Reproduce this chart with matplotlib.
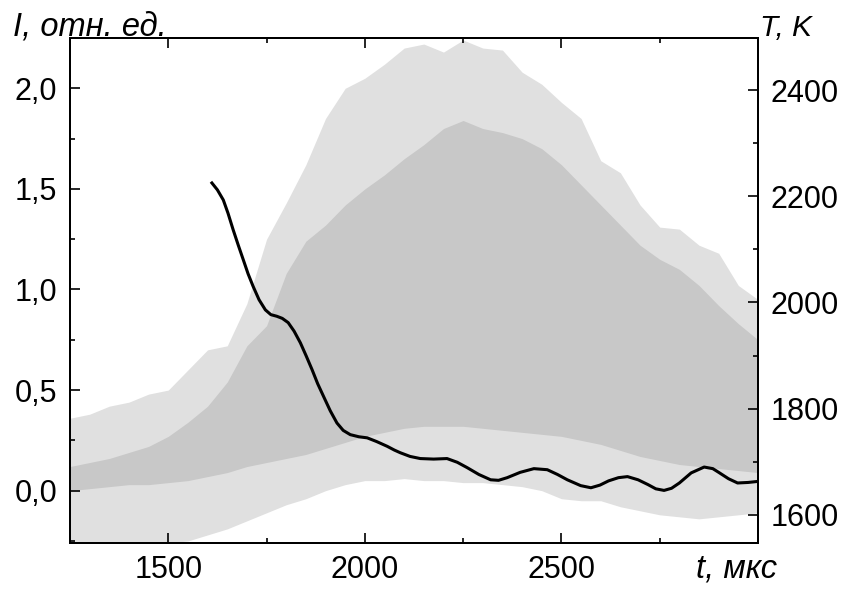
import matplotlib
matplotlib.use("Agg")
import matplotlib.pyplot as plt
from matplotlib.ticker import FixedLocator, MultipleLocator, FuncFormatter

plt.rcParams["font.family"] = ["Liberation Sans", "DejaVu Sans"]

# envelopes of the oscillating intensity signal I (rel. units)
t_env = [1250, 1300, 1350, 1400, 1450, 1500, 1550, 1600, 1650, 1700, 1750, 1800,
         1850, 1900, 1950, 2000, 2050, 2100, 2150, 2200, 2250, 2300, 2350, 2400,
         2450, 2500, 2550, 2600, 2650, 2700, 2750, 2800, 2850, 2900, 2950, 3000]
i_max = [0.36, 0.38, 0.42, 0.44, 0.48, 0.50, 0.60, 0.70, 0.72, 0.93, 1.25, 1.43,
         1.62, 1.85, 2.00, 2.05, 2.12, 2.20, 2.22, 2.18, 2.24, 2.20, 2.19, 2.08,
         2.02, 1.93, 1.85, 1.64, 1.58, 1.42, 1.31, 1.30, 1.22, 1.18, 1.02, 0.95]
i_min = [-0.27, -0.27, -0.27, -0.27, -0.27, -0.26, -0.25, -0.22, -0.19, -0.15, -0.11, -0.07,
         -0.04, 0.00, 0.03, 0.05, 0.05, 0.06, 0.05, 0.05, 0.04, 0.04, 0.03, 0.02,
         0.00, -0.04, -0.05, -0.05, -0.08, -0.10, -0.12, -0.13, -0.14, -0.13, -0.12, -0.11]
core_hi = [0.12, 0.14, 0.16, 0.19, 0.22, 0.27, 0.34, 0.42, 0.54, 0.72, 0.82, 1.08,
           1.24, 1.32, 1.42, 1.50, 1.57, 1.65, 1.72, 1.80, 1.84, 1.80, 1.78, 1.75,
           1.70, 1.62, 1.52, 1.42, 1.32, 1.22, 1.15, 1.10, 1.02, 0.92, 0.83, 0.75]
core_lo = [0.00, 0.01, 0.02, 0.03, 0.03, 0.04, 0.05, 0.07, 0.09, 0.12, 0.14, 0.16,
           0.18, 0.21, 0.24, 0.27, 0.29, 0.31, 0.32, 0.32, 0.32, 0.31, 0.30, 0.29,
           0.28, 0.27, 0.25, 0.23, 0.20, 0.17, 0.15, 0.13, 0.12, 0.11, 0.10, 0.09]

# temperature T, K
t_T = [1611, 1625, 1640, 1652, 1665, 1678, 1691, 1703, 1716, 1731, 1747, 1761,
       1776, 1790, 1805, 1820, 1836, 1851, 1866, 1880, 1895, 1912, 1929, 1945,
       1963, 1985, 2006, 2030, 2057, 2075, 2090, 2115, 2141, 2175, 2209, 2235,
       2260, 2290, 2320, 2340, 2362, 2395, 2430, 2464, 2490, 2515, 2549, 2575,
       2598, 2620, 2645, 2668, 2695, 2720, 2740, 2761, 2780, 2800, 2830, 2863,
       2885, 2900, 2925, 2948, 2975, 3000]
temp = [2225, 2212, 2193, 2168, 2137, 2108, 2080, 2054, 2030, 2005, 1986, 1977,
        1974, 1970, 1962, 1946, 1924, 1899, 1873, 1847, 1823, 1796, 1773, 1759,
        1751, 1747, 1745, 1738, 1729, 1722, 1717, 1710, 1706, 1705, 1706, 1699,
        1689, 1676, 1666, 1665, 1670, 1680, 1687, 1685, 1676, 1666, 1655, 1651,
        1656, 1664, 1670, 1672, 1666, 1657, 1649, 1646, 1650, 1660, 1679, 1690,
        1687, 1680, 1668, 1660, 1661, 1663]

fig = plt.figure(figsize=(8.46, 5.92), dpi=100)
ax = fig.add_axes([0.0827, 0.0828, 0.8133, 0.853])

ax.fill_between(t_env, i_min, i_max, color="#e0e0e0", lw=0)
ax.fill_between(t_env, core_lo, core_hi, color="#c8c8c8", lw=0)

ax.set_xlim(1250, 3000)
ax.set_ylim(-0.26, 2.25)
ax.xaxis.set_major_locator(FixedLocator([1500, 2000, 2500]))
ax.xaxis.set_minor_locator(FixedLocator([1250, 1750, 2250, 2750]))
ax.yaxis.set_major_locator(MultipleLocator(0.5))
ax.yaxis.set_minor_locator(MultipleLocator(0.25))
ax.yaxis.set_major_formatter(FuncFormatter(lambda v, p: f"{v:.1f}".replace(".", ",")))
ax.tick_params(axis="x", which="both", direction="in", top=True, labelsize=22, pad=9)
ax.tick_params(axis="y", which="both", direction="in", right=False, labelsize=22, pad=9)
ax.tick_params(which="major", length=7, width=1.2)
ax.tick_params(which="minor", length=3.8, width=1.2)

ax2 = ax.twinx()
ax2.plot(t_T, temp, color="black", lw=2.2, solid_joinstyle="round")
ax2.set_ylim(1547, 2498)
ax2.yaxis.set_major_locator(MultipleLocator(200))
ax2.yaxis.set_minor_locator(MultipleLocator(100))
ax2.tick_params(axis="y", which="both", direction="in", labelsize=22, pad=9)
ax2.tick_params(which="major", length=7, width=1.2)
ax2.tick_params(which="minor", length=3.8, width=1.2)

for a in (ax, ax2):
    for s in a.spines.values():
        s.set_linewidth(1.4)

fig.text(13 / 846, 1 - 35 / 592, "I, отн. ед.", fontsize=23.5, style="italic")
fig.text(760 / 846, 1 - 36 / 592, "T, K", fontsize=21.5, style="italic")
fig.text(696 / 846, 1 - 577 / 592, "t, мкс", fontsize=23.5, style="italic")

fig.savefig("out.png", dpi=100)
